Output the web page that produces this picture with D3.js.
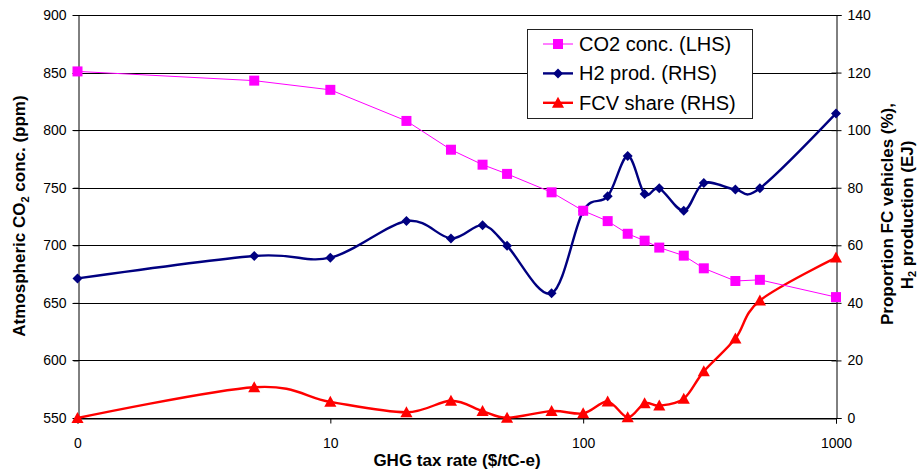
<!DOCTYPE html>
<html>
<head>
<meta charset="utf-8">
<script src="https://cdn.jsdelivr.net/npm/d3@7"></script>
<style>
  body { margin: 0; background: #fff; }
  svg { font-family: "Liberation Sans", Arial, sans-serif; }
</style>
</head>
<body>
<div id="chart"></div>
<script>
// ===== Data =====
// the "0" tax rate sits at the log position of 1
const taxRates = [1, 5, 10, 20, 30, 40, 50, 75, 100, 125, 150, 175, 200, 250, 300, 400, 500, 1000];
const co2Conc = [851, 843, 835, 808, 783, 770, 762, 746, 730, 721, 710, 704, 698, 691, 680, 669, 670, 655];
const h2Prod = [48.5, 56.3, 55.7, 68.4, 62.4, 67.0, 59.8, 43.3, 71.9, 77.0, 91.0, 77.8, 79.8, 72.0, 81.6, 79.4, 79.8, 105.8];
const fcvShare = [0, 10.7, 5.6, 2.0, 6.0, 2.4, 0.1, 2.4, 1.6, 5.7, 0.2, 5.1, 4.3, 6.7, 16.2, 27.6, 40.8, 55.7];

const xTicks = [1, 10, 100, 1000];
const xTickLabels = ["0", "10", "100", "1000"];
const leftTicks = [550, 600, 650, 700, 750, 800, 850, 900];
const rightTicks = [0, 20, 40, 60, 80, 100, 120, 140];
const legendLabels = ["CO2 conc. (LHS)", "H2 prod. (RHS)", "FCV share (RHS)"];

// ===== Layout =====
const W = 918, H = 470;
const plot = { left: 77.5, right: 836, top: 15, bottom: 418 };

const svg = d3.select("#chart").append("svg").attr("width", W).attr("height", H);

const x = d3.scaleLog().domain([1, 1000]).range([plot.left, plot.right]);
const yL = d3.scaleLinear().domain([550, 900]).range([plot.bottom, plot.top]);
const yR = d3.scaleLinear().domain([0, 140]).range([plot.bottom, plot.top]);

// ===== Gridlines =====
svg.append("g")
  .selectAll("line")
  .data(leftTicks)
  .enter()
  .append("line")
  .attr("x1", plot.left - 5)
  .attr("x2", plot.right)
  .attr("y1", (d) => Math.round(yL(d)) + 0.5)
  .attr("y2", (d) => Math.round(yL(d)) + 0.5)
  .attr("stroke", "#000")
  .attr("stroke-width", 1);

// ===== Axes =====
const axisLeft = svg.append("g")
  .attr("transform", `translate(${Math.round(plot.left) + 0.5},0)`)
  .call(d3.axisLeft(yL).tickValues(leftTicks).tickSize(5).tickPadding(7));
const axisRight = svg.append("g")
  .attr("transform", `translate(${Math.round(plot.right) + 0.5},0)`)
  .call(d3.axisRight(yR).tickValues(rightTicks).tickSize(5).tickPadding(6));
axisRight.selectAll(".tick line").attr("x1", -5);
const axisBottom = svg.append("g")
  .attr("transform", `translate(0,${Math.round(plot.bottom) + 0.5})`)
  .call(d3.axisBottom(x).tickValues(xTicks).tickFormat((d, i) => xTickLabels[i]).tickSize(5).tickPadding(15));

[axisLeft, axisRight, axisBottom].forEach((g) => {
  g.select(".domain").attr("stroke", "#000");
  g.selectAll(".tick line").attr("stroke", "#000");
  g.selectAll("text").attr("fill", "#000").style("font-size", "14px")
    .style("font-family", "'Liberation Sans', Arial, sans-serif");
});

// ===== Marker shapes =====
const squarePath = (s) => `M${-s / 2},${-s / 2}h${s}v${s}h${-s}Z`;
const diamondPath = (s) => `M0,${-s / 2}L${s / 2},0L0,${s / 2}L${-s / 2},0Z`;
const trianglePath = (s) => `M0,${-s * 0.55}L${s * 0.55},${s * 0.45}L${-s * 0.55},${s * 0.45}Z`;

const series = [
  { values: co2Conc, y: yL, color: "#ff00ff", width: 1, curve: d3.curveLinear, shape: squarePath, size: 10 },
  { values: h2Prod, y: yR, color: "#000080", width: 2.4, curve: d3.curveCatmullRom.alpha(0), shape: diamondPath, size: 10 },
  { values: fcvShare, y: yR, color: "#ff0000", width: 2.4, curve: d3.curveCatmullRom.alpha(0), shape: trianglePath, size: 11 }
];

// draw in reverse so the CO2 squares stay on top like the reference
series.slice().reverse().forEach((s) => {
  const pts = taxRates.map((t, i) => ({ t, v: s.values[i] }));
  const line = d3.line()
    .x((d) => x(d.t))
    .y((d) => s.y(d.v))
    .curve(s.curve);

  svg.append("path")
    .datum(pts)
    .attr("fill", "none")
    .attr("stroke", s.color)
    .attr("stroke-width", s.width)
    .attr("d", line);

  svg.append("g")
    .selectAll("path")
    .data(pts)
    .enter()
    .append("path")
    .attr("transform", (d) => `translate(${x(d.t)},${s.y(d.v)})`)
    .attr("d", s.shape(s.size))
    .attr("fill", s.color);
});

// ===== Legend =====
const legend = svg.append("g").attr("transform", "translate(527,29)");
legend.append("rect")
  .attr("x", 0.5).attr("y", 0.5)
  .attr("width", 225).attr("height", 89)
  .attr("fill", "#fff")
  .attr("stroke", "#222");

legendLabels.forEach((label, i) => {
  const s = series[i];
  const cy = 15 + i * 29.4;
  legend.append("line")
    .attr("x1", 16).attr("x2", 46)
    .attr("y1", cy).attr("y2", cy)
    .attr("stroke", s.color)
    .attr("stroke-width", s.width);
  legend.append("path")
    .attr("transform", `translate(31,${cy})`)
    .attr("d", s.shape(s.size))
    .attr("fill", s.color);
  legend.append("text")
    .attr("x", 52).attr("y", cy)
    .attr("dy", "0.35em")
    .style("font-size", "20px")
    .text(label);
});

// ===== Axis titles =====
svg.append("text")
  .attr("x", 457).attr("y", 460)
  .attr("dy", "0.35em")
  .attr("text-anchor", "middle")
  .style("font-size", "17px").style("font-weight", "bold")
  .text("GHG tax rate ($/tC-e)");

const leftTitle = svg.append("text")
  .attr("transform", "translate(25,216) rotate(-90)")
  .attr("text-anchor", "middle")
  .style("font-size", "17px").style("font-weight", "bold");
leftTitle.append("tspan").text("Atmospheric CO");
leftTitle.append("tspan").attr("dy", 4).style("font-size", "11px").text("2");
leftTitle.append("tspan").attr("dy", -4).text(" conc. (ppm)");

const rightTitle = svg.append("text")
  .attr("transform", "translate(893,214) rotate(-90)")
  .attr("text-anchor", "middle")
  .style("font-size", "17px").style("font-weight", "bold");
rightTitle.append("tspan").text("Proportion FC vehicles (%),");
const rightTitle2 = svg.append("text")
  .attr("transform", "translate(913,215) rotate(-90)")
  .attr("text-anchor", "middle")
  .style("font-size", "17px").style("font-weight", "bold");
rightTitle2.append("tspan").text("H");
rightTitle2.append("tspan").attr("dy", 3).style("font-size", "11px").text("2");
rightTitle2.append("tspan").attr("dy", -3).text(" production (EJ)");
</script>
</body>
</html>
